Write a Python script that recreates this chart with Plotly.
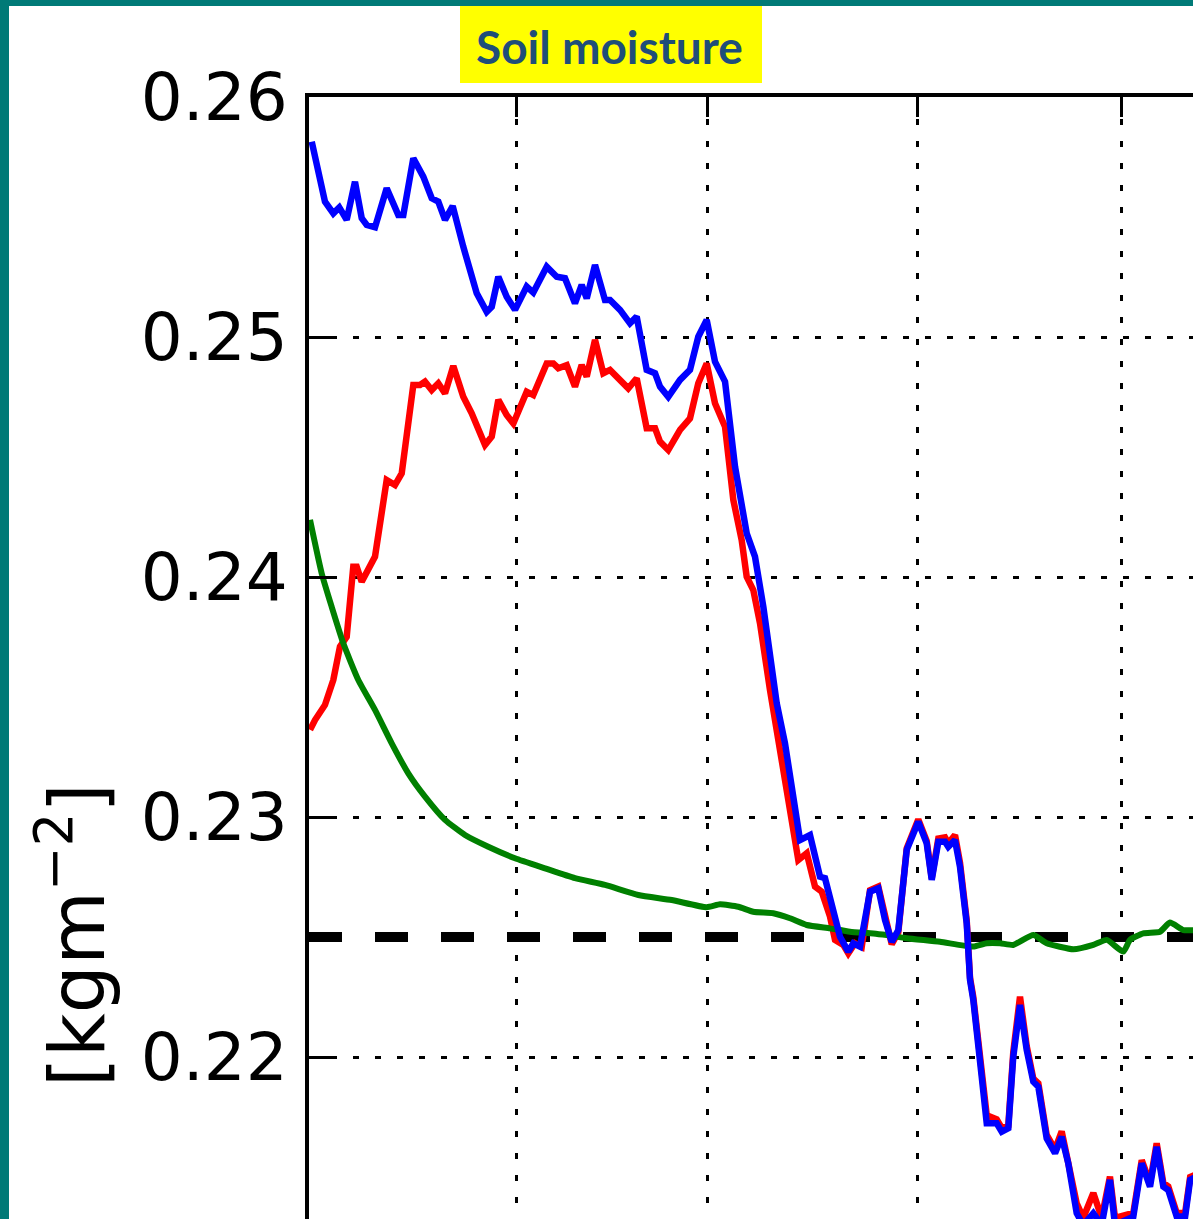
import pandas as pd
import plotly.graph_objects as go

# ---------------- data ----------------
BASE_DATE = "2015-01-01"

blue_days = [0.77, 1.50, 2.72, 3.95, 4.83, 5.92, 7.14, 8.13, 8.87, 10.09, 11.81, 13.52, 14.26,
             15.73, 17.20, 18.44, 19.41, 20.40, 21.53, 23.09, 25.07, 26.54, 27.28, 28.25, 29.48,
             30.71, 32.43, 33.40, 35.38, 36.85, 38.07, 39.54, 40.53, 41.27, 42.49, 43.96, 44.70,
             46.17, 47.64, 48.63, 50.10, 51.33, 52.06, 53.28, 55.01, 56.48, 57.70, 58.94, 60.16,
             61.64, 63.11, 64.83, 66.05, 67.28, 69.25, 70.47, 71.69, 72.68, 74.15, 75.63, 76.36,
             77.35, 78.57, 79.79, 80.53, 81.52, 82.99, 84.21, 85.20, 86.19, 87.16, 88.40, 90.10,
             91.34, 92.08, 93.05, 94.04, 94.52, 95.51, 96.24, 97.23, 97.72, 98.20, 99.44, 100.18,
             101.65, 102.39, 103.36, 104.09, 105.08, 106.07, 107.04, 107.78, 109.01, 110.24,
             111.22, 112.19, 113.43, 114.40, 115.88, 117.11, 118.33, 119.07, 121.77, 123.01,
             124.23, 125.21, 126.19, 126.92, 128.16, 129.40, 130.14, 131.0]
blue_vals = [0.25814, 0.25724, 0.25564, 0.25515, 0.25540, 0.25488, 0.25647, 0.25495, 0.25467,
             0.25457, 0.25620, 0.25508, 0.25508, 0.25745, 0.25668, 0.25578, 0.25564, 0.25488,
             0.25546, 0.25376, 0.25182, 0.25105, 0.25126, 0.25251, 0.25168, 0.25113, 0.25210,
             0.25185, 0.25293, 0.25251, 0.25245, 0.25140, 0.25217, 0.25161, 0.25300, 0.25154,
             0.25154, 0.25113, 0.25057, 0.25085, 0.24863, 0.24849, 0.24793, 0.24751, 0.24821,
             0.24863, 0.25001, 0.25071, 0.24897, 0.24814, 0.24460, 0.24182, 0.24085, 0.23876,
             0.23474, 0.23307, 0.23071, 0.22904, 0.22925, 0.22751, 0.22745, 0.22626, 0.22501,
             0.22439, 0.22474, 0.22460, 0.22689, 0.22703, 0.22571, 0.22480, 0.22529, 0.22863,
             0.22980, 0.22890, 0.22738, 0.22897, 0.22897, 0.22876, 0.22904, 0.22793, 0.22557,
             0.22321, 0.22238, 0.21918, 0.21724, 0.21724, 0.21689, 0.21703, 0.22001, 0.22217,
             0.22029, 0.21897, 0.21876, 0.21661, 0.21599, 0.21668, 0.21557, 0.21349, 0.21300,
             0.21349, 0.21300, 0.21488, 0.21300, 0.21335, 0.21557, 0.21460, 0.21626, 0.21460,
             0.21446, 0.21335, 0.21335, 0.21488, 0.21500]

red_days = [0.52, 1.25, 2.72, 3.95, 4.93, 5.92, 6.89, 7.39, 8.13, 10.09, 11.81, 13.03, 14.02,
            15.73, 16.72, 17.45, 18.44, 19.41, 20.40, 21.62, 23.09, 24.33, 26.29, 27.28, 28.25,
            29.48, 30.46, 32.43, 33.40, 35.38, 36.35, 37.08, 38.32, 39.54, 40.53, 41.27, 42.49,
            43.71, 44.70, 46.17, 47.39, 48.63, 50.10, 51.33, 52.06, 53.28, 55.01, 56.48, 57.70,
            58.94, 60.16, 61.64, 62.86, 64.09, 64.83, 65.80, 66.79, 68.26, 69.48, 70.47, 71.46,
            72.43, 73.67, 74.89, 75.88, 77.10, 77.84, 79.06, 79.79, 80.78, 81.77, 82.99, 84.21,
            85.20, 86.19, 87.16, 88.40, 90.10, 91.34, 92.08, 93.05, 94.04, 94.52, 95.51, 96.24,
            97.23, 97.72, 98.20, 99.44, 100.18, 101.65, 102.39, 103.36, 104.09, 105.08, 106.07,
            107.04, 107.78, 109.01, 110.24, 111.22, 112.19, 113.43, 114.40, 115.88, 117.11,
            118.33, 119.07, 121.77, 123.01, 124.23, 125.21, 126.19, 126.92, 128.16, 129.40,
            130.14, 131.0]
red_vals = [0.23363, 0.23404, 0.23467, 0.23571, 0.23710, 0.23751, 0.24043, 0.24043, 0.23980,
            0.24085, 0.24404, 0.24383, 0.24432, 0.24800, 0.24800, 0.24814, 0.24779, 0.24807,
            0.24765, 0.24879, 0.24751, 0.24682, 0.24550, 0.24585, 0.24738, 0.24675, 0.24640,
            0.24772, 0.24758, 0.24890, 0.24890, 0.24870, 0.24883, 0.24793, 0.24883, 0.24835,
            0.24988, 0.24849, 0.24863, 0.24821, 0.24786, 0.24828, 0.24620, 0.24620, 0.24564,
            0.24529, 0.24613, 0.24661, 0.24807, 0.24890, 0.24724, 0.24626, 0.24321, 0.24154,
            0.24001, 0.23946, 0.23807, 0.23529, 0.23321, 0.23182, 0.22974, 0.22821, 0.22849,
            0.22710, 0.22689, 0.22585, 0.22488, 0.22467, 0.22432, 0.22474, 0.22459, 0.22695,
            0.22710, 0.22580, 0.22470, 0.22520, 0.22870, 0.22990, 0.22900, 0.22745, 0.22910,
            0.22915, 0.22890, 0.22925, 0.22810, 0.22570, 0.22330, 0.22250, 0.21935, 0.21757,
            0.21740, 0.21705, 0.21715, 0.22020, 0.22251, 0.22045, 0.21910, 0.21890, 0.21675,
            0.21615, 0.21690, 0.21570, 0.21390, 0.21330, 0.21433, 0.21330, 0.21501, 0.21330,
            0.21350, 0.21570, 0.21475, 0.21640, 0.21475, 0.21460, 0.21350, 0.21350, 0.21500,
            0.21510]

green_days = [0.52, 2.24, 3.71, 5.42, 7.63, 10.09, 12.55, 14.99, 17.45, 20.40, 23.34, 26.77,
              30.71, 35.13, 39.54, 43.96, 48.87, 53.78, 58.94, 60.90, 63.59, 65.80, 68.75,
              71.21, 73.67, 77.10, 80.04, 83.48, 85.45, 88.40, 93.30, 98.20, 100.18, 102.14,
              104.09, 107.04, 109.01, 112.93, 115.88, 117.85, 120.29, 121.28, 123.24, 125.70,
              127.17, 129.13, 131.0]
green_vals = [0.24238, 0.24015, 0.23876, 0.23724, 0.23571, 0.23446, 0.23307, 0.23182, 0.23085,
              0.22988, 0.22925, 0.22876, 0.22828, 0.22786, 0.22745, 0.22717, 0.22675, 0.22654,
              0.22624, 0.22636, 0.22626, 0.22605, 0.22599, 0.22578, 0.22550, 0.22536, 0.22522,
              0.22515, 0.22508, 0.22495, 0.22480, 0.22460, 0.22474, 0.22474, 0.22467, 0.22508,
              0.22474, 0.22449, 0.22467, 0.22488, 0.22439, 0.22488, 0.22515, 0.22522, 0.22560,
              0.22529, 0.22529]

THRESHOLD = 0.225
x_tick_dates = ["2015-02-01", "2015-03-01", "2015-04-01", "2015-05-01"]
y_tick_vals = [0.22, 0.23, 0.24, 0.25, 0.26]
y_tick_text = ["0.22", "0.23", "0.24", "0.25", "0.26"]
x_range = ["2015-01-01 08:50", "2015-05-11 13:25"]
y_range = [0.21325, 0.26]

TITLE = "Soil moisture"
Y_TITLE = "[kgm<sup>\u22122</sup>]"

# ---------------- layout helpers ----------------
W, H = 1193, 1219
ML, MR, MT, MB = 309, 0, 97, 0
PW, PH = W - ML - MR, H - MT - MB


def px(x):
    return (x - ML) / PW


def py(y):
    return (H - MB - y) / PH


def to_dates(days):
    return pd.Timestamp(BASE_DATE) + pd.to_timedelta(days, unit="D")


fig = go.Figure()
fig.add_trace(go.Scatter(x=to_dates(red_days), y=red_vals, mode="lines",
                         line=dict(color="#ff0000", width=6.5), showlegend=False))
fig.add_trace(go.Scatter(x=to_dates(green_days), y=green_vals, mode="lines",
                         line=dict(color="#008000", width=6, shape="spline", smoothing=0.5),
                         showlegend=False))
fig.add_trace(go.Scatter(x=to_dates(blue_days), y=blue_vals, mode="lines",
                         line=dict(color="#0000ff", width=6.5), showlegend=False))

fig.add_hline(y=THRESHOLD, line=dict(color="black", width=10, dash="33px,33px"), layer="below")

TEAL = "#007a77"
shapes = [
    dict(type="rect", xref="paper", yref="paper", x0=px(0), x1=px(W), y0=py(6), y1=py(0),
         fillcolor=TEAL, line=dict(width=0), layer="above"),
    dict(type="rect", xref="paper", yref="paper", x0=px(0), x1=px(9), y0=py(H), y1=py(0),
         fillcolor=TEAL, line=dict(width=0), layer="above"),
    dict(type="rect", xref="paper", yref="paper", x0=px(460), x1=px(762), y0=py(83), y1=py(6),
         fillcolor="#ffff00", line=dict(width=0), layer="above"),
]
for s in shapes:
    fig.add_shape(**s)

fig.add_annotation(text="<b>" + TITLE + "</b>", xref="paper", yref="paper",
                   x=px(609), y=py(46), xanchor="center", yanchor="middle", showarrow=False,
                   font=dict(family="Lato", size=46, color="#1f4e79"))
fig.add_annotation(text=Y_TITLE, xref="paper", yref="paper", x=px(72), y=py(935),
                   xanchor="center", yanchor="middle", textangle=-90, showarrow=False,
                   font=dict(family="DejaVu Sans", size=76, color="black"))

fig.update_layout(
    width=W, height=H,
    margin=dict(l=ML, r=MR, t=MT, b=MB, pad=0),
    paper_bgcolor="white", plot_bgcolor="white",
    showlegend=False,
    xaxis=dict(type="date", range=x_range, side="top", showticklabels=False,
               tickvals=x_tick_dates, ticks="inside", ticklen=20, tickwidth=3, tickcolor="black",
               showline=True, linewidth=4, linecolor="black", mirror=False,
               showgrid=True, gridcolor="black", gridwidth=3, griddash="6px,16px",
               zeroline=False, automargin=False),
    yaxis=dict(range=y_range, tickvals=y_tick_vals, ticktext=y_tick_text,
               ticks="inside", ticklen=25, tickwidth=3, tickcolor="black",
               showline=True, linewidth=4, linecolor="black", mirror=False,
               showgrid=True, gridcolor="black", gridwidth=3, griddash="6px,16px",
               zeroline=False, automargin=False, ticklabelstandoff=4,
               tickfont=dict(family="DejaVu Sans", size=66, color="black")),
)

fig.write_html("out.html")
